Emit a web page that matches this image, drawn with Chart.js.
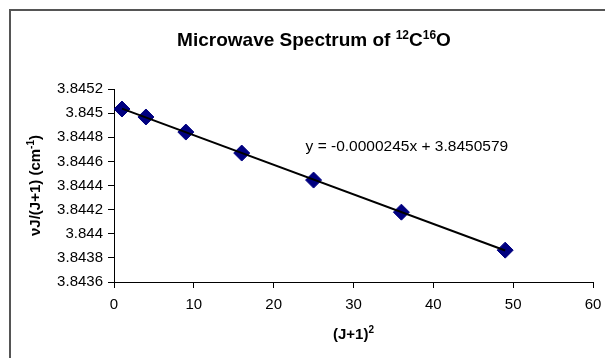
<!DOCTYPE html>
<html>
<head>
<meta charset="utf-8">
<script src="https://cdn.jsdelivr.net/npm/chart.js@4"></script>
<style>
  html, body { margin: 0; padding: 0; background: #fff; overflow: hidden; }
  #wrap { position: relative; width: 605px; height: 358px; }
  #frame { position: absolute; left: 9px; top: 9px; width: 700px; height: 500px;
           border-left: 2px solid #555; border-top: 2px solid #555; }
  canvas { position: absolute; left: 0; top: 0; }
</style>
</head>
<body>
<div id="wrap">
  <div id="frame"></div>
  <canvas id="chart" width="605" height="358"></canvas>
</div>
<script>
// (J+1)^2 and nu_J/(J+1)
const xValues = [1, 4, 9, 16, 25, 36, 49];
const yValues = [3.845034, 3.844968, 3.844843, 3.844669, 3.844445, 3.844179, 3.843864];
const xTicks = [0, 10, 20, 30, 40, 50, 60];
const yTicks = [3.8436, 3.8438, 3.844, 3.8442, 3.8444, 3.8446, 3.8448, 3.845, 3.8452];
const equationText = 'y = -0.0000245x + 3.8450579';
const equationAnchor = { x: 24, y: 3.844686 }; // where Excel left the label

const FONT = '"Liberation Sans", Arial, sans-serif';

// linear trendline (least squares, same as Excel)
const n = xValues.length;
const mx = xValues.reduce((a, b) => a + b, 0) / n;
const my = yValues.reduce((a, b) => a + b, 0) / n;
let sxy = 0, sxx = 0;
for (let i = 0; i < n; i++) {
    sxy += (xValues[i] - mx) * (yValues[i] - my);
    sxx += (xValues[i] - mx) * (xValues[i] - mx);
}
const slope = sxy / sxx;
const intercept = my - slope * mx;
const xFirst = Math.min(...xValues), xLast = Math.max(...xValues);
const trendPoints = [xFirst, xLast].map(x => ({ x: x, y: slope * x + intercept }));

// text with superscripts: parts = [[text, isSup], ...]
function drawRich(ctx, parts, size, bold, x, y, align) {
    const w = bold ? 'bold ' : '';
    const supSize = Math.round(size * 0.65);
    let total = 0;
    parts.forEach(p => {
        ctx.font = w + (p[1] ? supSize : size) + 'px ' + FONT;
        total += ctx.measureText(p[0]).width;
    });
    let cx = align === 'left' ? x : x - total / 2;
    ctx.textAlign = 'left';
    ctx.textBaseline = 'alphabetic';
    parts.forEach(p => {
        ctx.font = w + (p[1] ? supSize : size) + 'px ' + FONT;
        ctx.fillText(p[0], cx, p[1] ? y - size * 0.38 : y);
        cx += ctx.measureText(p[0]).width;
    });
}

const textPlugin = {
    id: 'excelText',
    afterDraw(chart) {
        const ctx = chart.ctx;
        const area = chart.chartArea;
        ctx.save();
        ctx.fillStyle = '#000';
        drawRich(ctx, [['Microwave Spectrum of ', false], ['12', true], ['C', false], ['16', true], ['O', false]],
                 19, true, 314, 46);
        drawRich(ctx, [['(J+1)', false], ['2', true]], 15, true, (area.left + area.right) / 2, 339);
        ctx.save();
        ctx.translate(40, (area.top + area.bottom) / 2);
        ctx.rotate(-Math.PI / 2);
        drawRich(ctx, [['\u03BDJ/(J+1) (cm', false], ['-1', true], [')', false]], 15, true, 0, 0);
        ctx.restore();
        const ex = chart.scales.x.getPixelForValue(equationAnchor.x);
        const ey = chart.scales.y.getPixelForValue(equationAnchor.y);
        drawRich(ctx, [[equationText, false]], 15.5, false, ex, ey, 'left');
        ctx.restore();
    }
};

new Chart(document.getElementById('chart'), {
    type: 'scatter',
    data: {
        datasets: [{
            label: 'trend',
            type: 'line',
            data: trendPoints,
            borderColor: '#000',
            borderWidth: 2,
            pointRadius: 0,
            fill: false,
            order: 0
        }, {
            label: 'data',
            data: xValues.map((x, i) => ({ x: x, y: yValues[i] })),
            pointStyle: 'rectRot',
            pointRadius: 8,
            pointBackgroundColor: '#000080',
            pointBorderColor: '#000080',
            pointBorderWidth: 1,
            order: 1
        }]
    },
    options: {
        responsive: false,
        animation: false,
        devicePixelRatio: 1,
        layout: { padding: { top: 89, right: 12, left: 0, bottom: 0 } },
        plugins: {
            legend: { display: false },
            title: { display: false },
            tooltip: { enabled: false }
        },
        scales: {
            x: {
                type: 'linear',
                min: 0, max: 60,
                afterBuildTicks: s => { s.ticks = xTicks.map(v => ({ value: v })); },
                afterFit: s => { s.height = 76; s.paddingRight = 0; s.paddingLeft = 0; },
                grid: { drawOnChartArea: false, drawTicks: true, tickLength: 6, tickColor: '#000' },
                border: { display: true, color: '#000', width: 1 },
                ticks: { color: '#000', padding: 8, font: { family: FONT, size: 15 } }
            },
            y: {
                type: 'linear',
                min: 3.8436, max: 3.8452,
                afterBuildTicks: s => { s.ticks = yTicks.map(v => ({ value: v })); },
                afterFit: s => { s.width = 114; s.paddingTop = 0; s.paddingBottom = 0; },
                grid: { drawOnChartArea: false, drawTicks: true, tickLength: 6, tickColor: '#000' },
                border: { display: true, color: '#000', width: 1 },
                ticks: {
                    color: '#000', padding: 5, font: { family: FONT, size: 15 },
                    callback: v => String(parseFloat(v.toFixed(4)))
                }
            }
        }
    },
    plugins: [textPlugin]
});
</script>
</body>
</html>
